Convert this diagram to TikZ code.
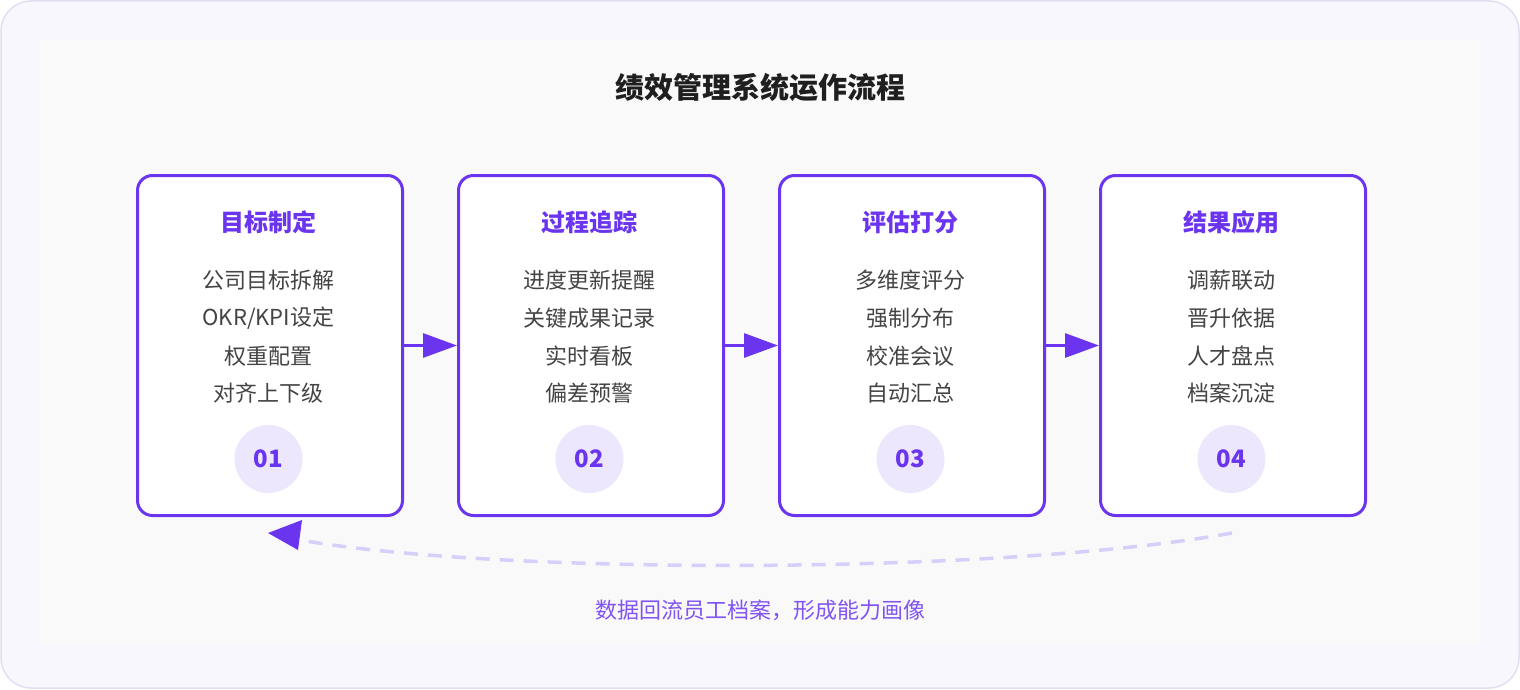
\documentclass[tikz,border=0pt]{standalone}
\usepackage{fontspec}
\setmainfont{Noto Sans CJK SC}
\usetikzlibrary{arrows.meta}
\definecolor{pp}{HTML}{6B35F0}
\definecolor{lp}{HTML}{EDE7FD}
\definecolor{dp}{HTML}{D8CEFA}
\definecolor{tx}{HTML}{444444}
\definecolor{ob}{HTML}{E2DFF2}
\definecolor{of}{HTML}{F8F7FD}
\begin{document}
\begin{tikzpicture}[x=1pt,y=-1pt,
  box/.style={draw=pp,line width=3pt,rounded corners=15pt,fill=white,minimum width=265pt,minimum height=340pt,anchor=north west},
  ttl/.style={text=pp,font=\fontsize{24}{28}\selectfont\bfseries},
  itm/.style={text=tx,font=\fontsize{22}{26}\selectfont},
  num/.style={circle,fill=lp,minimum size=68pt,inner sep=0,text=pp,font=\fontsize{24}{28}\selectfont\bfseries},
  flow/.style={draw=pp,line width=3pt,-{Triangle[length=34pt,width=24pt]}}]
\useasboundingbox (0,0) rectangle (1520,690);
\draw[draw=ob,fill=of,line width=1.5pt,rounded corners=30pt] (1,1) rectangle (1519,688);
\fill[black!2.5] (40,40) rectangle (1480,645);
\node[font=\fontsize{29}{33}\selectfont\bfseries,text=black!88] (title) at (760,88) {绩效管理系统运作流程};
\foreach \i/\x/\t/\a/\b/\c/\d in {1/136/目标制定/公司目标拆解/OKR\slash KPI设定/权重配置/对齐上下级,
  2/457/过程追踪/进度更新提醒/关键成果记录/实时看板/偏差预警,
  3/778/评估打分/多维度评分/强制分布/校准会议/自动汇总,
  4/1099/结果应用/调薪联动/晋升依据/人才盘点/档案沉淀}{
  \node[box] (b\i) at (\x,174) {};
  \node[ttl] (t\i) at (\x+132.5,222) {\t};
  \node[itm] (i\i a) at (\x+132.5,280) {\a};
  \node[itm] (i\i b) at (\x+132.5,318) {\b};
  \node[itm] (i\i c) at (\x+132.5,356) {\c};
  \node[itm] (i\i d) at (\x+132.5,393) {\d};
  \node[num] (n\i) at (\x+132.5,459) {0\i};
}
\draw[flow] (b1.east) -- (b2.west);
\draw[flow] (b2.east) -- (b3.west);
\draw[flow] (b3.east) -- (b4.west);
\coordinate (cs) at (1232,533);
\coordinate (ce) at (268,533);
\draw[dp,line width=3.5pt,dash pattern=on 14pt off 10pt] (cs) .. controls (1000,575) and (500,575) .. (300,540);
\fill[pp] (ce) -- (302,520) -- (298,550) -- cycle;
\node[text=pp!85!white,font=\fontsize{22}{26}\selectfont] (lbl) at (760,610) {数据回流员工档案，形成能力画像};
\end{tikzpicture}
\end{document}
